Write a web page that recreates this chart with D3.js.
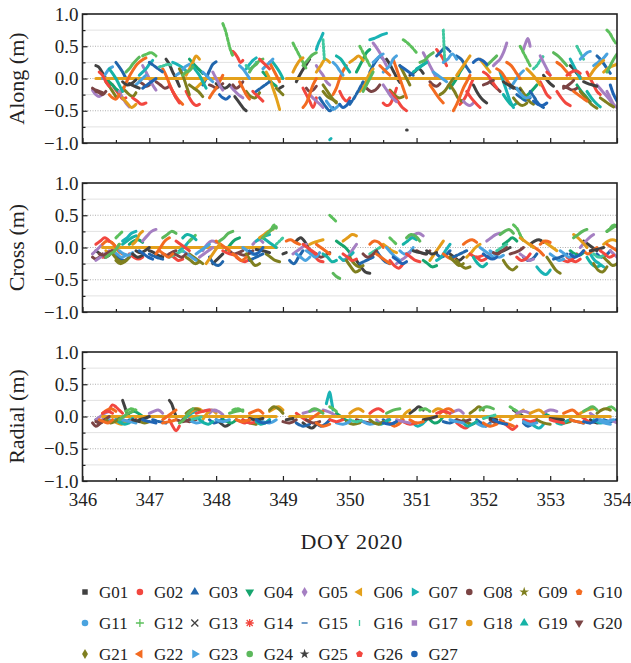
<!DOCTYPE html>
<html>
<head>
<meta charset="utf-8">
<script src="https://cdn.jsdelivr.net/npm/d3@7"></script>
<style>
  body { margin: 0; background: #fff; }
  svg text { font-family: "Liberation Serif", "Times New Roman", serif !important; }
</style>
</head>
<body>
<div id="chart"></div>
<script>
// satellites and their legend look
var satNames = ["G01","G02","G03","G04","G05","G06","G07","G08","G09","G10",
  "G11","G12","G13","G14","G15","G16","G17","G18","G19","G20",
  "G21","G22","G23","G24","G25","G26","G27"];
var satColors = ["#414141","#f2473f","#2166ac","#16a56e","#a57fc2","#e4a11b","#1ab3b5","#7b4444","#7f7f1f","#f36b21",
  "#4aa3df","#5cc05c","#414141","#f2473f","#2166ac","#40c8a0","#a57fc2","#e39b1a","#16b3a6","#7b4444",
  "#7f7f1f","#f36b21","#4aa3df","#5cb85c","#414141","#f2473f","#1f64b4"];
var satMarkers = ["square","circle","up","down","diamond","left","right","circle","star","pentagon",
  "circle","plus","cross","asterisk","dash","bar","square","circle","up","down",
  "diamond","left","right","circle","star","pentagon","circle"];

var dayTicks = [346, 347, 348, 349, 350, 351, 352, 353, 354];
var yTicks = [-1, -0.5, 0, 0.5, 1];
var panelTitles = ["Along (m)", "Cross (m)", "Radial (m)"];

// orbit residual arcs, one list per satellite: [start DOY, end DOY, values in cm ...]
var alongArcs = [
  [[346.2,346.4,20,18,12,5,-2,-10],[347.25,347.45,30,22,10,0,-12],[348.28,348.45,-28,-34,-40,-46,-50],[349.2,349.4,-5,5,14,22,30],[350.55,350.75,30,22,12,2,-6],[351.85,352.05,-10,-20,-28,-34,-38],[352.9,353.05,5,-2,-8,-12],[353.3,353.45,20,15,8,2]],
  [[346.45,346.65,-10,-18,-25,-32,-30],[347.55,347.75,-20,-30,-38,-42,-40],[348.25,348.4,42,38,32,25,28],[349.3,349.5,-15,-25,-35,-45,-30],[350.5,350.7,-38,-42,-40,-30,-15],[351.3,351.45,45,38,30,20],[351.65,351.85,-40,-34,-25,-12,0],[352.85,353.0,-5,-15,-25,-30],[353.55,353.75,10,0,-10,-20,-25]],
  [[346.5,346.65,25,18,10,0],[347.8,348.0,-10,0,12,22,26],[349.55,349.75,-30,-38,-45,-50,-45],[350.3,350.5,10,20,28,34,30],[351.6,351.8,35,30,20,10],[352.5,352.7,-25,-30,-34,-30],[353.7,353.9,35,28,18,8]],
  [[346.35,346.55,0,-5,-10,-16,-20],[347.6,347.8,30,22,15,8],[348.7,348.9,10,4,-2,-8,-12],[350.1,350.3,10,20,30,40,45],[351.5,351.7,-15,-8,0,10,18],[352.6,352.8,-30,-25,-18,-10],[353.4,353.6,-10,-20,-28,-36]],
  [[346.15,346.3,-18,-25,-28,-24],[346.9,347.1,20,10,0,-10,-18],[348.2,348.4,-10,-18,-25,-30],[349.5,349.7,20,12,5,-5,-10],[350.35,350.55,55,48,40,30,20],[351.1,351.3,40,30,20,10,0],[352.15,352.35,20,25,30,40,55],[352.6,352.7,45,55,62,50],[353.7,353.95,-10,-20,-30,-42]],
  [[346.2,349.0,0,0],[349.05,354.0,0,0],[347.7,347.85,-15,-10,-5,0],[348.75,348.95,10,0,-15,-30,-48],[349.5,349.7,10,20,30,25],[350.15,350.35,-20,-10,5,15],[351.95,352.1,30,20,10],[353.8,354.0,10,18,22]],
  [[346.85,347.05,5,10,15,22,28],[347.35,347.55,25,22,18,12],[348.45,348.6,15,22,28,32],[349.5,349.6,45,55,62,70],[349.7,349.72,-95,-93],[350.3,350.55,60,62,65,68,70],[351.0,351.15,15,20,25],[352.25,352.45,10,-5,-20,-35,-45],[353.3,353.45,30,20,10,0]],
  [[346.15,346.3,-15,-18,-20,-22],[346.85,347.0,-5,-8,-12,-10],[347.9,348.1,-10,-12,-15,-12,-8],[349.35,349.5,-15,-20,-18,-12],[351.2,351.35,-5,-10,-12,-8],[352.1,352.25,-5,-10,-15,-20],[353.2,353.4,-12,-15,-18,-15]],
  [[346.6,346.8,-15,-20,-25,-28,-22],[347.6,347.8,-10,-15,-20,-28],[348.45,348.65,-20,-28,-30,-22],[349.6,349.8,-20,-28,-32,-36],[350.6,350.8,-18,-25,-30,-28],[351.5,351.7,-10,-20,-32,-36],[352.55,352.75,-15,-25,-35,-40],[353.45,353.7,-20,-30,-40,-46]],
  [[346.55,346.95,-25,-15,0,12,22,28,32],[347.2,347.4,15,5,-8,-20,-30],[347.9,348.1,-30,-22,-15,-5,5],[348.8,348.95,25,15,5,-5],[349.75,349.95,-25,-15,0,12,20],[350.65,350.85,30,15,0,-15,-30],[351.55,351.8,-50,-40,-28,-15,-5,5],[352.2,352.4,15,10,0,-10],[353.1,353.3,25,20,12,5]],
  [[346.3,346.45,0,8,15,18],[347.4,347.6,5,10,18,22],[348.35,348.5,20,15,8,0],[349.75,349.9,25,20,12,5],[350.5,350.7,10,15,20,30,35],[351.4,351.6,25,30,38,30],[352.4,352.6,-15,-5,5,12],[353.65,353.85,20,25,30,38]],
  [[346.9,347.1,35,38,40,35],[348.1,348.25,85,75,60,45,35],[349.15,349.35,55,45,35,25,15],[350.15,350.3,50,40,30,20],[350.8,351.0,60,55,48,40],[352.55,352.7,50,40,30,20],[353.85,353.98,75,70,62,55]],
  [[346.6,346.8,-5,-10,-8,-2],[348.0,348.2,-8,-12,-15,-10],[350.9,351.1,5,10,15,8],[352.4,352.55,-10,-15,-18],[353.5,353.7,-5,-8,-10,-12]],
  [[346.75,346.95,-30,-35,-40,-38],[348.55,348.7,-20,-25,-30,-35],[350.6,350.85,-20,-28,-36,-45,-50],[352.0,352.2,10,5,-5,-15],[353.1,353.3,-20,-30,-38,-42]],
  [[347.0,347.2,25,20,15,10],[348.6,348.8,-20,-15,-10,-5],[350.0,350.2,-40,-30,-18,-5],[351.3,351.5,35,42,48,42],[352.7,352.9,-20,-30,-40,-45]],
  [[347.15,347.35,18,20,22,20],[348.45,348.6,20,15,18,25],[349.6,349.62,60,30],[351.4,351.42,75,30],[352.75,352.9,15,20,28,35],[353.4,353.5,50,40,30]],
  [[346.55,346.7,-20,-30,-38,-44],[347.95,348.1,10,0,-10,-18],[349.4,349.6,-25,-32,-38,-45],[350.5,350.7,-10,-20,-30,-36],[351.7,351.85,-35,-40,-42,-38],[352.85,353.0,35,25,15,5],[353.85,354.0,-20,-30,-40,-45]],
  [[346.6,346.8,-30,-38,-45,-40],[347.55,347.75,5,15,25,35,30],[349.15,349.3,10,20,28,32],[350.0,350.2,25,30,35,28],[351.6,351.8,5,15,25,35],[352.65,352.85,15,8,0,-10],[353.6,353.8,5,15,22,28]],
  [[346.4,346.6,15,8,0,-10,-20],[347.65,347.85,20,12,5,-5,-15],[348.85,349.0,25,18,10,0],[349.8,350.0,35,30,20,10],[350.95,351.15,10,15,20,25],[352.3,352.5,-25,-35,-42,-38],[353.55,353.75,-20,-30,-38,-44]],
  [[346.2,346.35,-20,-22,-25,-20],[347.1,347.3,-5,-10,-15,-12],[348.25,348.4,-10,-15,-12,-5],[350.25,350.45,-15,-20,-18,-10],[352.0,352.15,-10,-8,-5,-3],[353.2,353.35,-15,-12,-8,-3]],
  [[346.35,346.5,-5,-12,-20,-28],[347.45,347.6,15,5,-10,-25],[348.9,349.0,-15,-20,-25],[349.6,349.8,-10,-20,-30,-38],[350.75,350.9,20,10,0,-10],[351.35,351.55,-25,-20,-10,0],[352.45,352.65,-30,-38,-42,-38],[353.75,353.95,-30,-35,-40,-44]],
  [[346.4,346.55,-25,-30,-32,-25],[347.35,347.5,-20,-28,-35,-40],[348.35,348.5,-5,-15,-25,-32],[349.3,349.5,-45,-38,-25,-10,0],[350.45,350.6,20,15,10,5],[351.2,351.4,-10,-20,-30,-38],[352.35,352.55,25,20,10,0],[353.35,353.55,-20,-25,-30,-35]],
  [[346.8,346.95,-10,-5,0,5],[347.8,347.95,10,5,0,-5],[348.7,348.85,15,20,25,30],[349.65,349.85,-35,-42,-48,-45,-40],[350.35,350.5,25,30,35,38],[351.25,351.45,10,5,0,-5],[352.5,352.7,-15,-25,-30,-28],[353.45,353.6,30,35,40,42]],
  [[346.65,346.85,10,15,22,28,33],[347.5,347.65,5,10,12,18],[348.5,348.7,10,18,22,28,30],[349.3,349.5,20,28,36,40],[350.2,350.35,-20,-10,0,10],[351.05,351.25,25,28,35,40],[352.05,352.2,20,25,30,35],[353.05,353.25,40,35,28,20],[353.85,354.0,10,20,30,38]],
  [[346.7,346.85,-8,-12,-15],[348.95,349.0,-15,-12],[350.85,350.86,-80,-80],[352.3,352.45,-5,-10,-15]],
  [[346.25,346.4,10,5,-5,-12],[347.3,347.45,-10,-20,-30,-38],[348.65,348.8,30,25,20,15],[349.85,350.0,-20,-30,-35,-30],[351.75,351.95,-20,-30,-38,-45],[352.95,353.0,10,5],[353.25,353.45,5,10,12,8]],
  [[346.9,347.1,-15,-10,-5,0],[348.05,348.2,-25,-30,-32,-28],[349.85,350.0,-40,-45,-42,-35],[350.75,350.95,20,15,10,5],[351.85,352.05,25,30,28,22],[352.75,352.95,-35,-40,-42,-38],[353.9,354.0,-10,-25,-35]]
];

var crossArcs = [
  [[346.2,346.4,-5,-10,-15,-12],[347.0,347.2,-5,-8,-12,-15],[347.95,348.1,-25,-20,-15,-10],[349.2,349.4,10,15,8,-5],[350.1,350.3,-20,-30,-38,-40],[351.5,351.7,-10,-15,-20,-15],[352.7,352.9,5,10,12,8],[353.5,353.7,10,5,0,-5]],
  [[346.3,346.5,-15,-10,-5,0],[347.3,347.5,-10,-15,-20,-18],[348.3,348.5,-15,-20,-22,-18],[349.4,349.6,-5,-12,-20,-22],[350.6,350.8,-20,-28,-32,-25],[351.9,352.1,-15,-20,-18,-10],[353.2,353.4,-20,-22,-18,-10]],
  [[346.5,346.7,-10,-18,-20,-15],[347.9,348.1,-15,-25,-28,-22],[349.1,349.3,-20,-25,-15,-5],[350.4,350.6,-5,-15,-22,-25],[351.3,351.5,-10,-15,-12,-5],[352.6,352.8,-15,-20,-18,-10],[353.7,353.9,-10,-15,-12,-5]],
  [[346.7,346.9,5,10,12,8],[348.15,348.35,-5,5,12,15],[349.8,350.0,10,5,0,-8],[351.1,351.3,-20,-25,-30,-28],[352.3,352.5,5,10,15,10],[353.3,353.5,-5,-10,-12,-8]],
  [[346.15,346.3,-10,-5,0,5],[346.9,347.1,10,18,25,28],[347.8,348.0,-5,5,10,8],[348.55,348.7,5,10,12,8],[349.9,350.1,-20,-15,-5,5],[350.9,351.1,15,20,22,18],[352.05,352.25,10,15,20,22],[353.45,353.65,0,8,15,20]],
  [[346.3,348.9,0,0],[349.4,349.6,5,8,10,12],[350.5,350.7,5,0,-5,-8],[351.75,351.95,-15,-8,0,5],[352.9,353.1,10,5,0,-5],[353.8,354.0,5,10,12,10]],
  [[346.6,346.8,10,15,22,25],[347.45,347.65,-5,0,8,15],[348.6,348.8,10,15,18,20],[349.85,350.05,-15,-20,-15,-8],[351.3,351.5,-20,-15,-5,5],[352.8,353.0,-30,-38,-42,-35],[353.6,353.8,-10,-20,-25,-30]],
  [[346.15,346.3,-15,-18,-15,-10],[347.2,347.4,-10,-12,-8,-5],[348.2,348.4,-5,-10,-8,-5],[349.5,349.7,-10,-15,-12,-8],[351.0,351.2,-5,-8,-10,-5],[352.4,352.6,-10,-8,-5,0]],
  [[346.5,346.7,-20,-25,-22,-15],[347.6,347.8,-10,-15,-20,-25],[348.75,348.95,-10,-15,-20,-22],[350.0,350.2,-15,-25,-30,-28],[351.6,351.8,-20,-28,-32,-30],[352.95,353.15,-15,-25,-35,-40],[353.8,354.0,-15,-22,-28,-25]],
  [[346.4,346.6,10,5,-5,-10],[347.1,347.3,-10,0,10,15],[348.0,348.2,10,5,0,-5],[349.05,349.25,10,12,8,5],[350.3,350.5,5,10,8,0],[351.4,351.6,-10,-15,-18,-12],[352.7,352.9,5,0,-5,-12],[353.5,353.7,-5,-10,-5,0]],
  [[346.45,346.65,-5,-10,-15,-12],[347.5,347.7,-5,-10,-15,-20],[348.4,348.6,0,-5,-10,-12],[349.35,349.55,-5,-10,-15,-8],[350.75,350.95,-5,-10,-8,0],[352.1,352.3,-5,-10,-15,-12],[353.0,353.2,-10,-15,-20,-18]],
  [[346.5,346.6,15,20,25],[347.6,347.7,10,15,20],[348.8,348.9,25,30,35,30],[349.7,349.8,50,45,40],[350.6,350.7,15,10,5],[352.45,352.6,35,30,20,10],[353.85,354.0,25,30,35,32]],
  [[346.8,347.0,-5,-8,-5,0],[348.6,348.8,-3,-5,-8],[350.95,351.15,-5,-8,-10],[352.2,352.4,-8,-5,0],[353.6,353.8,-5,-3,0]],
  [[346.7,346.9,-10,-15,-18,-15],[348.1,348.3,-5,-10,-12],[349.9,350.1,-10,-15,-20,-18],[351.8,352.0,-10,-15,-12],[353.25,353.45,-15,-20,-22,-18]],
  [[347.0,347.2,-10,-15,-18],[348.5,348.7,-20,-15,-10],[350.15,350.35,-25,-20,-15],[351.55,351.75,-15,-10,-5],[353.05,353.25,-18,-15,-10]],
  [[347.3,347.5,-15,-10,-5],[348.9,349.0,5,10,15],[350.3,350.45,-10,-5,0],[352.2,352.35,-5,0,5],[353.65,353.8,-10,-15,-12]],
  [[346.2,346.4,-20,-15,-10,-5],[347.75,347.95,-15,-10,-5,0],[349.15,349.35,-10,-5,0,5],[350.7,350.9,-25,-20,-15,-8],[352.55,352.75,-10,-15,-20,-18],[353.9,354.0,-5,-10,-15]],
  [[346.35,346.55,-5,-10,-5,5],[346.75,346.9,5,10,20,25],[347.85,348.05,-25,-15,-5,5],[348.65,348.85,15,20,25,28],[349.9,350.1,10,15,20,18],[351.2,351.4,-20,-10,0,10],[352.55,352.75,15,10,5,0],[353.35,353.55,20,15,8,0]],
  [[346.6,346.8,5,10,15,18],[347.5,347.7,15,20,18,12],[348.7,348.9,15,10,5,0],[349.6,349.8,-10,-15,-22,-20],[350.8,351.0,5,10,15,12],[351.85,352.05,-15,-25,-30,-25],[353.55,353.75,-15,-25,-30,-28]],
  [[346.25,346.45,-10,-12,-8,-5],[347.35,347.55,-8,-12,-15,-10],[348.35,348.55,-10,-12,-10,-5],[350.2,350.4,-10,-15,-12,-5],[352.15,352.35,-8,-10,-5,0]],
  [[346.45,346.65,-10,-18,-22,-20],[347.55,347.75,-15,-20,-25,-22],[348.45,348.65,-10,-20,-28,-25],[349.95,350.15,-20,-30,-38,-35],[351.5,351.7,-15,-22,-28,-25],[352.3,352.5,-20,-30,-35,-30],[353.65,353.85,-25,-35,-38,-30]],
  [[346.3,346.5,5,10,8,0],[347.15,347.35,-5,-10,-15,-10],[348.25,348.45,-10,-15,-20,-15],[349.5,349.7,5,0,-5,-10],[350.4,350.6,-10,-15,-20,-25],[351.7,351.9,5,10,12,8],[352.85,353.0,5,10,8],[353.85,354.0,5,0,-5]],
  [[346.55,346.75,-5,-10,-12,-8],[347.7,347.9,-10,-5,0,5],[349.2,349.4,-10,-15,-20,-15],[350.55,350.75,0,-8,-15,-20],[351.95,352.15,0,-5,-10,-15],[353.15,353.35,-5,-10,-15,-12]],
  [[346.35,346.55,-15,-10,-5,5],[347.2,347.4,15,20,25,22],[348.05,348.25,10,15,22,25],[348.7,348.9,15,22,28,32],[349.75,349.85,-40,-45,-48],[350.85,351.05,15,20,18,10],[352.25,352.45,20,25,28,22],[353.35,353.55,15,20,25,28],[353.85,354.0,25,30,35]],
  [[346.75,346.9,-10,-15,-12],[349.0,349.05,-10,-8],[351.15,351.3,-5,-10,-8]],
  [[346.2,346.4,5,10,15,10],[347.4,347.6,10,5,0,-5],[349.3,349.5,5,0,-5,-10],[350.85,351.05,-10,-15,-20,-22],[352.5,352.7,-15,-20,-18,-10],[353.75,353.95,-5,-10,-15,-12]],
  [[346.85,347.05,-5,-10,-15,-18],[348.5,348.7,-5,-10,-8,0],[350.65,350.85,-15,-20,-25,-22],[352.0,352.2,-10,-15,-18,-15],[353.3,353.5,-10,-15,-12,-5]]
];

var radialArcs = [
  [[346.2,346.35,-5,-10,-8,-2],[346.6,346.7,25,15,5,0],[347.3,347.4,25,20,10,0],[348.0,348.2,-5,-10,-15,-12],[349.3,349.5,-10,-15,-18,-12],[350.9,351.1,5,10,15,10],[352.45,352.6,10,5,0],[353.6,353.8,-5,-10,-8]],
  [[346.4,346.6,10,18,15,10,5],[347.3,347.45,-5,-15,-22,-15],[348.3,348.5,-5,-8,-10,-5],[349.2,349.4,5,0,-5,-8],[350.3,350.5,5,10,12,8],[351.6,351.8,-10,-15,-18,-12],[352.3,352.5,-10,-15,-20,-15],[353.4,353.6,5,0,-5,-10]],
  [[346.5,346.7,-5,-8,-10,-5],[347.9,348.1,-5,-10,-8,-3],[349.5,349.7,-10,-15,-12,-5],[350.5,350.7,-5,-10,-12,-8],[351.9,352.1,-5,-10,-15,-10],[352.6,352.8,-10,-15,-12,-5],[353.8,354.0,-5,-8,-5]],
  [[346.7,346.9,5,8,5,0],[348.1,348.3,-5,-8,-10,-5],[349.8,350.0,5,0,-5,-8],[351.2,351.4,-5,-10,-8,0],[352.9,353.1,5,0,-5]],
  [[346.2,346.4,-5,0,5,8],[347.0,347.2,5,8,10,5],[347.9,348.1,5,10,8,3],[349.6,349.8,10,8,5,0],[350.4,350.6,-5,-10,-8,0],[351.5,351.7,5,8,10,5],[352.9,353.1,5,10,8],[353.6,353.8,5,0,-5,-8]],
  [[346.3,348.9,0,0],[349.1,353.9,0,0],[347.8,348.0,-5,5,10,5],[350.7,350.9,-10,-5,5,10],[352.4,352.6,-5,0,5,10]],
  [[346.55,346.75,-5,-10,-8,-3],[347.5,347.7,-5,0,5,8],[348.6,348.8,-5,-8,-10,-5],[349.65,349.75,20,30,38,25,10],[350.95,351.15,-10,-15,-12,-5],[352.7,352.9,-10,-15,-18,-12],[353.65,353.85,-5,-10,-8]],
  [[346.15,346.3,-10,-15,-12,-5],[347.5,347.7,-5,-8,-5],[349.0,349.2,-8,-10,-5],[350.1,350.3,-5,-8,-10],[352.1,352.3,-5,-10,-8]],
  [[346.8,347.0,-5,-8,-10,-8],[348.4,348.6,-5,-10,-12],[349.95,350.15,-8,-12,-10],[351.7,351.9,-5,-10,-12,-8],[353.1,353.3,-5,-10,-8]],
  [[346.3,346.5,5,10,12,8],[347.2,347.4,-5,0,5,10],[348.5,348.7,5,8,10,5],[349.4,349.6,-5,0,5,8],[350.6,350.8,-10,-15,-12,-5],[351.35,351.55,5,10,12,8],[352.25,352.45,-5,-10,-12,-15],[353.2,353.4,5,8,10,5]],
  [[346.4,346.55,-5,-8,-10],[347.6,347.8,-5,-10,-8],[348.7,348.9,-8,-10,-5],[350.2,350.4,-8,-12,-10],[351.9,352.1,-10,-15,-12],[353.7,353.9,-5,-10,-12]],
  [[346.65,346.8,8,12,10],[348.25,348.4,10,12,8],[349.7,349.8,15,12,8],[351.05,351.2,10,12,8],[352.4,352.55,15,10,5],[353.85,353.98,12,15,10]],
  [[346.85,347.0,-5,-3,0],[348.5,348.7,-3,-5,-3],[351.1,351.3,-5,-3,0],[353.0,353.2,-3,-5]],
  [[346.6,346.8,-5,-8,-5],[348.4,348.6,-5,-10,-8],[350.8,351.0,-8,-12,-10],[352.6,352.8,-5,-8,-5]],
  [[347.05,347.25,-5,-8,-10],[349.2,349.4,-10,-15,-12],[351.4,351.6,-8,-10,-5],[353.3,353.5,-5,-8,-10]],
  [[347.6,347.8,-5,-3,0],[350.0,350.2,-5,-8,-5],[352.0,352.2,-3,0,3]],
  [[346.3,346.5,-5,-8,-5],[347.8,348.0,8,10,8],[349.3,349.5,5,8,10],[350.7,350.9,-5,-8,-10],[352.5,352.7,5,8,5],[353.9,354.0,-5,-10]],
  [[346.45,346.65,-5,-10,-12,-8],[347.6,347.8,5,10,12,8],[348.8,349.0,8,12,15,10],[350.0,350.2,5,10,12,8],[351.25,351.45,8,12,10,5],[352.7,352.9,5,8,10,5],[353.45,353.65,5,10,12]],
  [[346.5,346.7,-5,-10,-12,-10],[347.75,347.95,-5,-10,-12,-8],[348.6,348.8,-8,-12,-10,-5],[350.4,350.6,-10,-12,-8,-5],[351.7,351.9,-10,-15,-12,-8],[353.1,353.3,-10,-12,-8,-5]],
  [[346.2,346.4,-8,-10,-5,0],[347.4,347.6,-5,-8,-5],[349.35,349.55,-5,-10,-8],[351.6,351.8,-5,-8,-5]],
  [[346.35,346.55,-5,-10,-8,-3],[347.55,347.75,5,10,12,10],[348.8,349.0,10,15,12,5],[350.3,350.5,-5,-10,-12,-8],[351.8,352.0,5,10,15,10],[352.8,353.0,-5,-10,-12],[353.7,353.9,5,10,12,10]],
  [[346.25,346.45,-5,-8,-10,-5],[347.2,347.4,-10,-8,-5],[348.3,348.5,-5,-8,-5],[349.5,349.7,-10,-15,-12],[350.9,351.1,-5,-10,-8],[352.0,352.2,-10,-15,-12],[353.3,353.5,-5,-8,-10]],
  [[346.6,346.8,-5,-8,-10],[348.0,348.2,-5,-8,-5],[349.8,350.0,-10,-12,-8],[351.5,351.7,-5,-8,-10],[352.6,352.8,-8,-12,-10],[353.75,353.95,-5,-8,-5]],
  [[346.55,346.75,-5,0,5,8],[347.45,347.65,-10,-5,5,12],[348.2,348.4,5,8,10],[349.4,349.6,8,12,10,5],[350.55,350.75,5,10,12],[351.95,352.15,10,15,12],[353.5,353.7,8,12,15,10]],
  [[346.75,346.85,-5,-8],[349.05,349.15,-5,-3],[352.1,352.2,-3,-5]],
  [[346.3,346.45,5,8,5],[347.7,347.9,5,8,10],[349.7,349.9,-5,-8,-5],[351.3,351.5,5,8,5],[353.0,353.2,-5,-8,-10]],
  [[346.9,347.1,-5,-8,-10],[348.6,348.8,-5,-10,-8],[350.5,350.7,-10,-12,-8],[352.15,352.35,-5,-10,-12],[353.5,353.7,-8,-10,-5]]
];

var panelData = [alongArcs, crossArcs, radialArcs];

var W = 631, H = 663;
var plotLeft = 82.5, plotRight = 617;
var panelTops = [14, 183, 352];
var panelH = 129;

var svg = d3.select("#chart").append("svg")
    .attr("width", W)
    .attr("height", H);

var x = d3.scaleLinear().domain([346, 354]).range([plotLeft, plotRight]);

// turn an arc [t0, t1, v...] into points
function arcPoints(arc) {
  var t0 = arc[0], t1 = arc[1], vals = arc.slice(2);
  var n = vals.length;
  return vals.map(function(v, i) {
    return { t: n > 1 ? t0 + (t1 - t0) * i / (n - 1) : t0, v: v / 100 };
  });
}

var dashed = { "G12": "3,2", "G15": "4,2", "G16": "1.5,2" };

panelTops.forEach(function(top, p) {
  var y = d3.scaleLinear().domain([-1, 1]).range([top + panelH, top]);
  var g = svg.append("g");

  // grid lines
  [-0.75, -0.25, 0.25, 0.75].forEach(function(v) {
    g.append("line")
      .attr("x1", plotLeft).attr("x2", plotRight)
      .attr("y1", y(v)).attr("y2", y(v))
      .attr("stroke", "#e2e2e2").attr("stroke-width", 1);
  });
  [-0.5, 0, 0.5].forEach(function(v) {
    g.append("line")
      .attr("x1", plotLeft).attr("x2", plotRight)
      .attr("y1", y(v)).attr("y2", y(v))
      .attr("stroke", "#9a9a9a").attr("stroke-width", 0.8)
      .attr("stroke-dasharray", "1,1.5");
  });

  var line = d3.line()
    .x(function(d) { return x(d.t); })
    .y(function(d) { return y(d.v); })
    .curve(d3.curveCatmullRom);

  var clipId = "clip" + p;
  svg.append("clipPath").attr("id", clipId)
    .append("rect").attr("x", plotLeft).attr("y", top)
    .attr("width", plotRight - plotLeft).attr("height", panelH);

  var marks = g.append("g").attr("clip-path", "url(#" + clipId + ")");
  panelData[p].forEach(function(arcs, s) {
    arcs.forEach(function(arc) {
      marks.append("path")
        .datum(arcPoints(arc))
        .attr("d", line)
        .attr("fill", "none")
        .attr("stroke", satColors[s])
        .attr("stroke-width", 3)
        .attr("stroke-linecap", "round")
        .attr("stroke-linejoin", "round")
        .attr("stroke-dasharray", dashed[satNames[s]] || null);
    });
  });

  // axes
  var fmt = function(d) { return d === 0 ? "0.0" : d3.format(".1f")(d).replace("-", "\u2212"); };
  var yAxis = g.append("g")
    .attr("transform", "translate(" + plotLeft + ",0)")
    .call(d3.axisLeft(y).tickValues(yTicks).tickSize(-5).tickPadding(4).tickFormat(fmt));
  var yMinor = g.append("g")
    .attr("transform", "translate(" + plotLeft + ",0)")
    .call(d3.axisLeft(y).tickValues([-0.75, -0.25, 0.25, 0.75]).tickSize(-3).tickFormat(""));
  var xAxis = g.append("g")
    .attr("transform", "translate(0," + (top + panelH) + ")")
    .call(d3.axisBottom(x).tickValues(dayTicks).tickSize(-5).tickPadding(12)
      .tickFormat(p === 2 ? d3.format("d") : ""));
  var xMinor = g.append("g")
    .attr("transform", "translate(0," + (top + panelH) + ")")
    .call(d3.axisBottom(x).tickValues(d3.range(346.5, 354, 1)).tickSize(-3).tickFormat(""));

  [yAxis, yMinor, xAxis, xMinor].forEach(function(a) {
    a.select(".domain").remove();
    a.selectAll(".tick line").attr("stroke", "#222").attr("stroke-width", 1.2);
    a.selectAll("text").attr("font-size", 19).attr("fill", "#222");
  });

  // frame
  g.append("rect")
    .attr("x", plotLeft).attr("y", top)
    .attr("width", plotRight - plotLeft).attr("height", panelH)
    .attr("fill", "none").attr("stroke", "#222").attr("stroke-width", 1.6);

  g.append("text")
    .attr("transform", "translate(24," + (top + panelH / 2) + ") rotate(-90)")
    .attr("text-anchor", "middle")
    .attr("font-size", 22)
    .attr("fill", "#222")
    .text(panelTitles[p]);
});

svg.append("text")
  .attr("x", (plotLeft + plotRight) / 2 + 2)
  .attr("y", 549)
  .attr("text-anchor", "middle")
  .attr("font-size", 22)
  .attr("letter-spacing", 0.8)
  .attr("fill", "#222")
  .text("DOY 2020");

// legend markers
function markerPath(type) {
  switch (type) {
    case "square": return d3.symbol(d3.symbolSquare, 30)();
    case "circle": return d3.symbol(d3.symbolCircle, 34)();
    case "diamond": return d3.symbol(d3.symbolDiamond, 30)();
    case "star": return d3.symbol(d3.symbolStar, 30)();
    case "up": case "down": case "left": case "right":
      return d3.symbol(d3.symbolTriangle, 34)();
    case "pentagon":
      var pts = d3.range(5).map(function(i) {
        var a = -Math.PI / 2 + i * 2 * Math.PI / 5;
        return [3.6 * Math.cos(a), 3.6 * Math.sin(a)];
      });
      return "M" + pts.join("L") + "Z";
    case "plus": return "M-4,0H4M0,-4V4";
    case "cross": return "M-3.5,-3.5L3.5,3.5M-3.5,3.5L3.5,-3.5";
    case "asterisk": return "M-4,0H4M0,-4V4M-3,-3L3,3M-3,3L3,-3";
    case "dash": return "M-3,0H3";
    case "bar": return "M0,-3V3";
  }
}
var rotation = { up: 0, down: 180, left: -90, right: 90 };
var strokeOnly = { plus: 1, cross: 1, asterisk: 1, dash: 1, bar: 1 };

var legendRowsY = [592, 623, 654];
var legend = svg.append("g");
satNames.forEach(function(name, i) {
  var row = Math.floor(i / 10), col = i % 10;
  var cx = 85 + col * 54.9, cy = legendRowsY[row];
  var type = satMarkers[i];
  var item = legend.append("g");
  item.append("path")
    .attr("d", markerPath(type))
    .attr("transform", "translate(" + cx + "," + cy + ") rotate(" + (rotation[type] || 0) + ")")
    .attr("fill", strokeOnly[type] ? "none" : satColors[i])
    .attr("stroke", strokeOnly[type] ? satColors[i] : "none")
    .attr("stroke-width", 1.3);
  item.append("text")
    .attr("x", cx + 14)
    .attr("y", cy + 6)
    .attr("font-size", 17)
    .attr("fill", "#222")
    .text(name);
});
</script>
</body>
</html>
